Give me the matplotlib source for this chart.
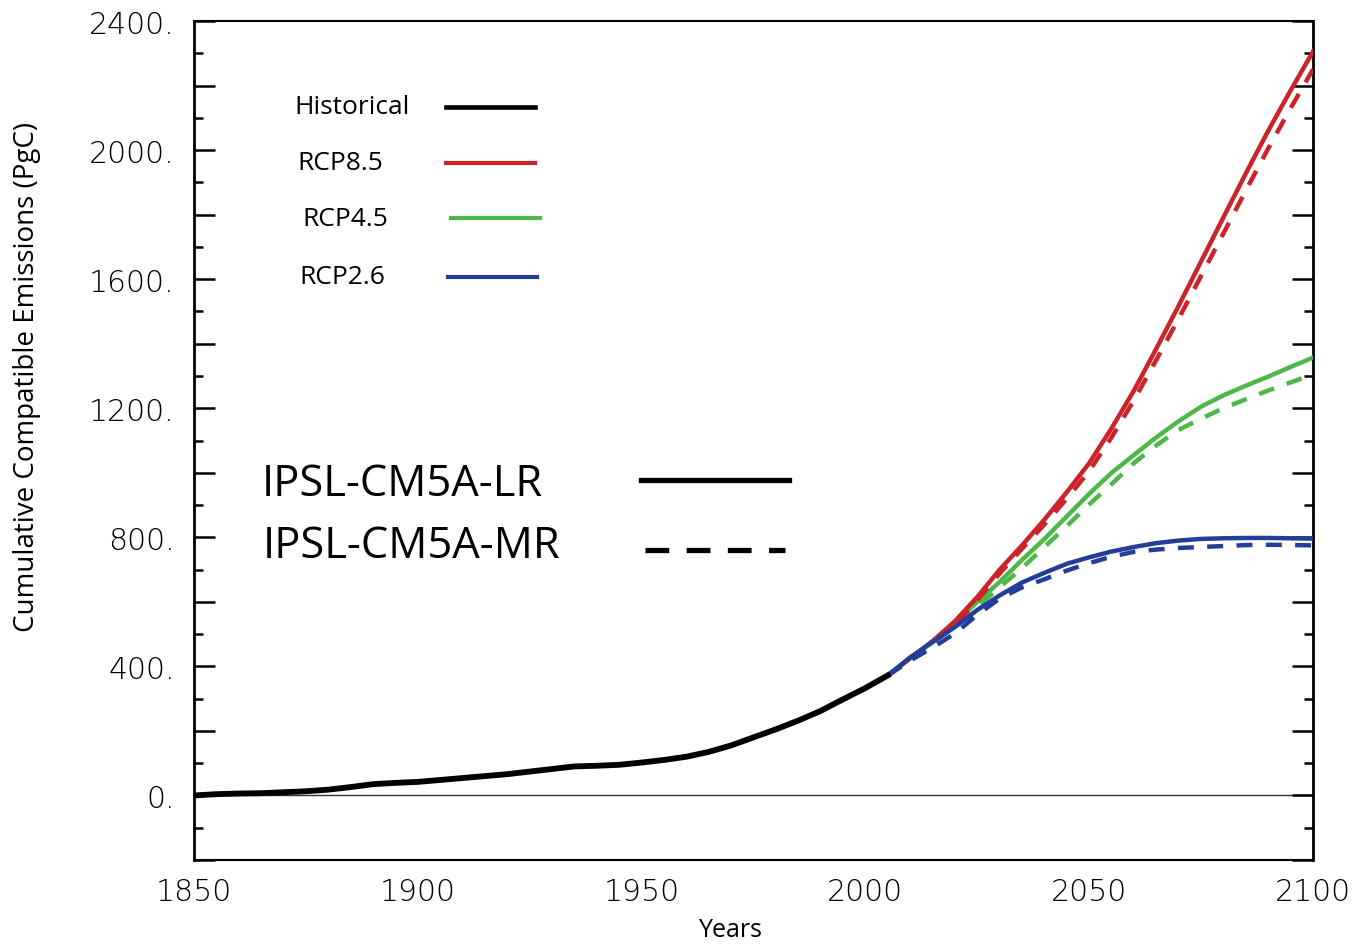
import matplotlib
matplotlib.use("Agg")
import matplotlib.pyplot as plt
from matplotlib.ticker import MultipleLocator, FuncFormatter

# historical run (both models share it)
hist_years = [1850, 1855, 1860, 1865, 1870, 1875, 1880, 1885, 1890, 1895, 1900,
              1905, 1910, 1915, 1920, 1925, 1930, 1935, 1940, 1945, 1950, 1955,
              1960, 1965, 1970, 1975, 1980, 1985, 1990, 1995, 2000, 2005]
hist_vals = [0, 4, 6, 7, 10, 13, 18, 26, 35, 39, 42, 48, 54, 60, 66, 74, 82, 90,
             92, 95, 102, 110, 120, 135, 155, 180, 205, 232, 262, 298, 333, 372]

# scenario years
rcp_years = [2005, 2010, 2015, 2020, 2025, 2030, 2035, 2040, 2045, 2050,
             2055, 2060, 2065, 2070, 2075, 2080, 2085, 2090, 2095, 2100]

rcp85_lr = [372, 425, 478, 540, 615, 700, 775, 855, 940, 1030,
            1138, 1255, 1385, 1518, 1655, 1792, 1928, 2060, 2185, 2305]
rcp85_mr = [372, 420, 472, 530, 605, 688, 765, 840, 920, 1005,
            1110, 1225, 1350, 1478, 1610, 1742, 1875, 2005, 2130, 2250]
rcp45_lr = [372, 425, 478, 535, 600, 662, 730, 795, 865, 935,
            1000, 1055, 1110, 1160, 1205, 1240, 1270, 1298, 1328, 1357]
rcp45_mr = [372, 420, 472, 525, 585, 645, 705, 770, 835, 902,
            965, 1030, 1085, 1133, 1168, 1200, 1228, 1255, 1280, 1305]
rcp26_lr = [372, 428, 475, 522, 575, 620, 660, 690, 718, 738,
            756, 770, 782, 790, 795, 797, 798, 798, 797, 796]
rcp26_mr = [372, 418, 458, 502, 560, 610, 645, 670, 697, 720,
            740, 755, 762, 767, 770, 773, 776, 777, 776, 775]

red = '#cc2229'
green = '#4db848'
blue = '#233e99'

fig = plt.figure(figsize=(13.55, 9.45), dpi=100)
ax = fig.add_axes([0.1432, 0.0889, 0.8258, 0.8878])

ax.axhline(0, color='#333333', lw=1.0, zorder=1)

lw = 3.2
dash = (3.6, 3.0)
for lr, mr, c in [(rcp45_lr, rcp45_mr, green), (rcp85_lr, rcp85_mr, red),
                  (rcp26_lr, rcp26_mr, blue)]:
    ax.plot(rcp_years, mr, color=c, lw=lw, dashes=dash, zorder=3)
    ax.plot(rcp_years, lr, color=c, lw=lw, zorder=3)

ax.plot(hist_years, hist_vals, color='black', lw=4.2, zorder=4)

ax.set_xlim(1850, 2100)
ax.set_ylim(-200, 2400)
ax.set_xticks([1850, 1900, 1950, 2000, 2050, 2100])
ax.yaxis.set_major_locator(MultipleLocator(200))
ax.yaxis.set_minor_locator(MultipleLocator(100))
ax.yaxis.set_major_formatter(FuncFormatter(
    lambda v, p: '%d.' % v if int(round(v)) % 400 == 0 else ''))

ax.tick_params(axis='y', which='major', direction='in', length=15, width=1.8,
               right=True, pad=14)
ax.tick_params(axis='y', which='minor', direction='in', length=6.5, width=1.8,
               right=True)
ax.tick_params(axis='x', length=0, pad=12)
for lab in ax.get_xticklabels() + ax.get_yticklabels():
    lab.set_fontfamily(['DejaVu Sans'])
    lab.set_fontweight('light')
    lab.set_fontsize(21.5)

for s in ['left', 'right']:
    ax.spines[s].set_linewidth(2.0)
for s in ['top', 'bottom']:
    ax.spines[s].set_linewidth(1.5)

lab_font = ['Open Sans', 'DejaVu Sans']
ax.set_xlabel('Years', fontsize=18, family=lab_font)
ax.xaxis.set_label_coords(0.48, -0.068)
ax.set_ylabel('Cumulative Compatible Emissions (PgC)', fontsize=20,
              family=lab_font, va='center')
ax.yaxis.set_label_coords(-0.149, 0.577)

# legend drawn by hand, as in the figure
leg = [('Historical', 'black', 294, 108, 446, 535),
       ('RCP8.5', red, 297, 164, 446, 535),
       ('RCP4.5', green, 302, 219, 451, 540),
       ('RCP2.6', blue, 299, 278, 448, 537)]
W, H = 1355.0, 945.0
for txt, c, tx, ty, x0, x1 in leg:
    fig.text(tx / W, 1 - ty / H, txt, fontsize=19, family=lab_font,
             va='center', ha='left')
    fig.add_artist(plt.Line2D([x0 / W, x1 / W], [1 - ty / H, 1 - ty / H],
                              color=c, lw=3.3 if c == 'black' else 3.0))

fig.text(262 / W, 1 - 485 / H, 'IPSL-CM5A-LR', fontsize=31.3, family=lab_font,
         va='center', ha='left')
fig.text(263 / W, 1 - 547 / H, 'IPSL-CM5A-MR', fontsize=31.3, family=lab_font,
         va='center', ha='left')
fig.add_artist(plt.Line2D([641 / W, 789 / W], [1 - 481 / H, 1 - 481 / H],
                          color='black', lw=3.8))
fig.add_artist(plt.Line2D([645 / W, 785 / W], [1 - 551 / H, 1 - 551 / H],
                          color='black', lw=3.8, dashes=(4.5, 3.3)))

fig.savefig('out.png', dpi=100)
